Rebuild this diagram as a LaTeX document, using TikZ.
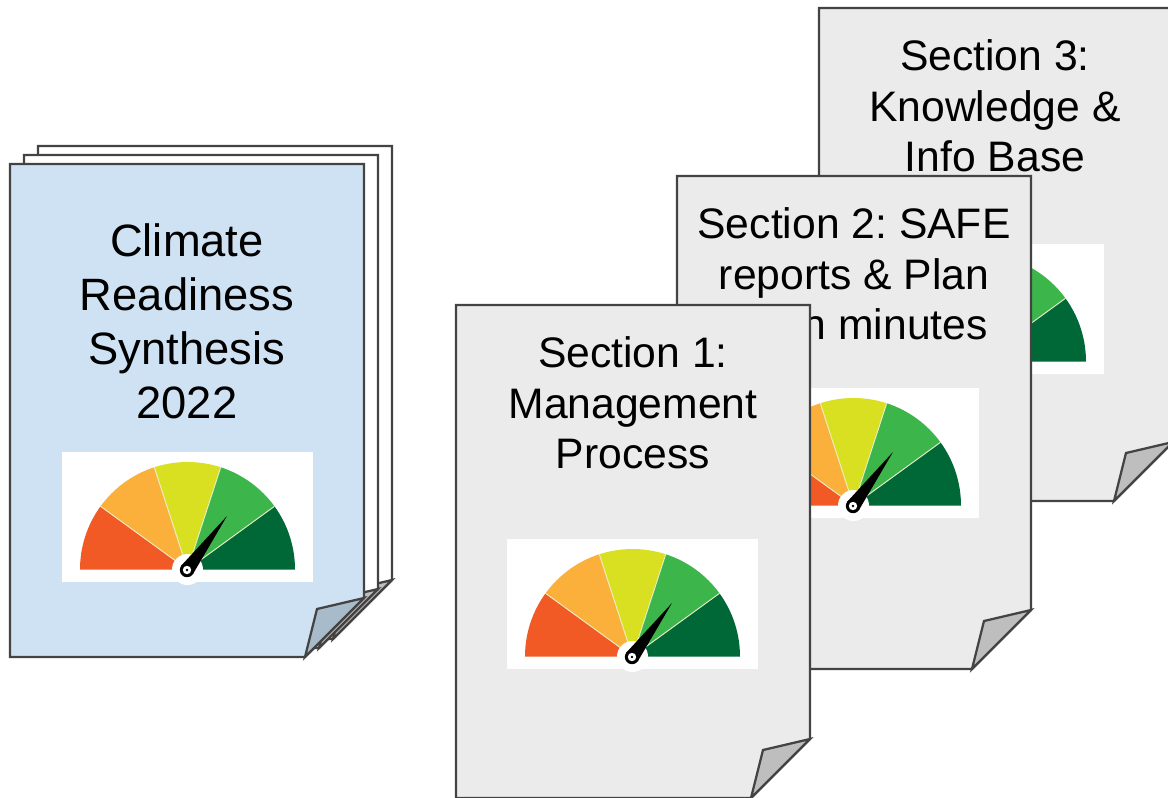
\documentclass[tikz,border=0pt]{standalone}
\usepackage{fontspec}
\setmainfont{Liberation Sans}
\definecolor{edge}{HTML}{434343}
\definecolor{bluepage}{HTML}{CFE2F3}
\definecolor{bluefold}{HTML}{A7BBCA}
\definecolor{graypage}{HTML}{EBEBEB}
\definecolor{grayfold}{HTML}{BEBEBE}
\definecolor{gred}{HTML}{F15A24}
\definecolor{gorange}{HTML}{FBB03B}
\definecolor{gyellow}{HTML}{D9E021}
\definecolor{ggreen}{HTML}{3CB64B}
\definecolor{gdark}{HTML}{006837}
\definecolor{gsep}{HTML}{E8EFC8}
\tikzset{
  sheet/.style={draw=edge,line width=1.7pt,line join=miter},
  label32/.style={align=center,inner sep=0pt,font=\fontsize{32}{38}\selectfont\frenchspacing,text=black},
  label34/.style={align=center,inner sep=0pt,font=\fontsize{34}{40.5}\selectfont\frenchspacing,text=black},
}
% #1 left, #2 top (px, y down), #3 page fill, #4 fold fill
\newcommand{\docsheet}[4]{%
  \begin{scope}[shift={(#1,-#2)}]
    \path[sheet,fill=#3] (0,0) -- (354,0) -- (354,-434) -- (295,-493) -- (0,-493) -- cycle;
    \path[sheet,fill=#4] (295,-493) -- (307,-445) -- (354,-434) -- cycle;
  \end{scope}}
% #1 left, #2 top of the white panel
\newcommand{\gaugepanel}[2]{%
  \begin{scope}[shift={(#1,-#2)}]
    \fill[white] (0,0) rectangle (251,-130);
    \begin{scope}[shift={(125.5,-117.5)}]
      \fill[gred] (0,0) -- (180:107.5) arc[start angle=180,end angle=144,radius=107.5] -- cycle;
      \fill[gorange] (0,0) -- (144:107.5) arc[start angle=144,end angle=108,radius=107.5] -- cycle;
      \fill[gyellow] (0,0) -- (108:107.5) arc[start angle=108,end angle=72,radius=107.5] -- cycle;
      \fill[ggreen] (0,0) -- (72:107.5) arc[start angle=72,end angle=36,radius=107.5] -- cycle;
      \fill[gdark] (0,0) -- (36:107.5) arc[start angle=36,end angle=0,radius=107.5] -- cycle;
      \foreach \a in {144,108,72,36} \draw[gsep,line width=.7pt] (0,0) -- (\a:107.5);
      \fill[white] (0,0) circle[radius=15.5];
      \begin{scope}[shift={(-.5,-.5)}]
        \fill[black] (143.4:7.2) -- (40,54) -- (-36.6:7.2) -- cycle;
        \fill[black] (0,0) circle[radius=7.2];
        \fill[white] (0,0) circle[radius=4.2];
        \fill[black] (0,0) circle[radius=1.3];
      \end{scope}
    \end{scope}
  \end{scope}}
\begin{document}
\begin{tikzpicture}[x=.75pt,y=.75pt]
\useasboundingbox (0,0) rectangle (1168,-797);
\clip (0,0) rectangle (1168,-797);
\fill[white] (0,0) rectangle (1168,-797);
% stacked document
\docsheet{38}{146}{white}{grayfold}
\docsheet{24}{155}{white}{grayfold}
\docsheet{10}{164}{bluepage}{bluefold}
\gaugepanel{62}{452}
\node[label34] (climate) at (187,-321.5) {Climate\\Readiness\\Synthesis\\2022};
% section 3
\docsheet{819}{8}{graypage}{grayfold}
\gaugepanel{853}{244}
\node[label32] (sec3) at (995,-106) {Section 3:\\Knowledge \&\\Info Base};
% section 2
\docsheet{677}{176}{graypage}{grayfold}
\gaugepanel{728}{388}
\node[label32,anchor=north] (sec2) at (854,-207.5) {Section 2: SAFE\\reports \& Plan};
\node[label32,anchor=base east] (sec2c) at (988,-339) {n minutes};
% section 1
\docsheet{456}{305}{graypage}{grayfold}
\gaugepanel{507}{539}
\node[label32] (sec1) at (633,-403) {Section 1:\\Management\\Process};
\end{tikzpicture}
\end{document}
